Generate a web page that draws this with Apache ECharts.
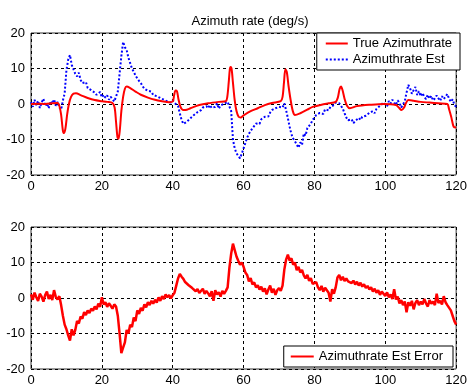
<!DOCTYPE html>
<html>
<head>
<meta charset="utf-8">
<script src="https://cdn.jsdelivr.net/npm/echarts@6/dist/echarts.min.js"></script>
<style>
  html, body { margin: 0; padding: 0; background: #fff; }
  #chart { width: 470px; height: 387px; }
</style>
</head>
<body>
<div id="chart"></div>
<script>
// Sample spacing of the estimator output (seconds)
const STEP = 0.5;

// Axis ticks
const xTicks = [0, 20, 40, 60, 80, 100, 120];
const yTicks = [-20, -10, 0, 10, 20];

// True azimuth rate (deg/s) as [time, value] knots
const trueRate = [
  [0,0],[2,0.1],[4,0],[6,0.2],[7.5,0.3],[8,-0.5],[8.5,-3],[9,-7.5],[9.3,-8.2],[9.7,-7],
  [10.2,-3],[10.7,0],[11.3,2],[12,2.9],[12.7,3],[14,2.5],[16,1.7],[18,1.1],[20,0.8],[21.5,0.6],
  [23,0.3],[23.6,-1],[24,-5],[24.4,-9.3],[24.7,-9.8],[25.1,-7],[25.5,-2],[26,2],[26.5,4.3],[27,4.9],
  [27.8,4.6],[29.5,3.5],[31,2.6],[33,1.8],[35,1.2],[37,0.8],[39,0.5],[40,0.7],[40.4,2.5],[40.8,3.8],
  [41.2,3.6],[41.6,1.5],[42.2,-0.8],[43,-1.7],[44,-1.6],[45,-1.2],[47.5,-0.3],[50,0.2],[53,0.6],[55,0.8],
  [55.4,2],[55.8,6],[56.1,9.6],[56.3,10.4],[56.6,10],[57,6],[57.5,1],[58,-2],[58.6,-3.6],[59.2,-3.8],
  [60,-3.2],[62,-2],[64,-1.2],[66,-0.3],[68,0.3],[70.5,0.8],[71,2],[71.4,6],[71.8,9.8],[72.2,9],
  [72.7,5],[73.3,1],[73.9,-2],[74.5,-3.1],[76,-2.6],[78,-1.6],[79.5,-0.8],[82,-0.2],[84,0.2],[86,0.6],
  [86.6,1.8],[87.1,4.2],[87.5,4.9],[87.9,4],[88.5,1.5],[89.2,-0.5],[90,-1.2],[92,-0.6],[96,-0.2],[99.5,0],
  [103,-0.3],[103.8,-1],[104.6,-1.7],[105.3,-1],[105.8,0.2],[106.5,1.1],[108,0.9],[110,0.6],[112.5,0.4],[115,0.2],
  [117.5,0],[118,-1.5],[118.6,-3.6],[119.3,-6.4],[120,-6.6]
];

// Estimated azimuth rate (deg/s), one value every STEP from t = 0
const estRate = [
  0.5, -0.8, 1.2, -0.3, 0.9, -1.1, 0.4, 1.5, -0.6, 0.2,
  -1.2, 0.8, 0.1, 1.3, -0.5, 0.6, -1.0, -1.6, 1.0, 3.0,
  9.5, 12.5, 13.8, 11.0, 10.5, 8.5, 7.8, 8.8, 6.8, 5.9,
  5.4, 6.2, 4.5, 5.0, 3.9, 4.4, 3.2, 2.6, 2.5, 3.4,
  1.9, 2.6, 1.8, 2.4, 1.2, 2.0, 1.6, 0.7, 0.6, 3.5,
  8.5, 13.5, 17.5, 16.0, 15.2, 13.0, 11.5, 10.0, 9.1, 8.0,
  7.2, 6.5, 5.9, 5.0, 4.3, 4.6, 3.7, 3.2, 3.5, 2.5,
  3.0, 2.2, 2.6, 1.7, 2.0, 1.2, 1.6, 0.7, 1.1, 0.4,
  1.0, 0.3, 0.6, -0.5, -2.6, -4.5, -5.6, -6.0, -5.0, -5.4,
  -4.0, -4.5, -3.1, -3.4, -2.3, -2.0, -1.7, -1.0, -1.5, -0.6,
  -1.2, -0.3, -1.1, -0.6, -0.8, 0.2, -1.3, -0.4, -0.8, 0.1,
  -0.3, 0.6, 0.8, -2.0, -10.0, -12.5, -13.9, -14.4, -15.3, -14.0,
  -12.5, -11.0, -9.5, -8.4, -8.8, -6.8, -6.2, -5.5, -5.0, -5.6,
  -4.3, -4.0, -3.6, -3.1, -3.5, -2.4, -1.7, -2.2, -1.2, -1.6,
  -0.8, -0.3, -1.0, 0.2, -1.7, -4.0, -6.4, -8.5, -9.7, -10.5,
  -11.0, -12.3, -10.8, -11.5, -8.3, -8.9, -6.8, -7.2, -5.5, -4.5,
  -4.0, -3.1, -3.6, -2.5, -2.2, -2.8, -1.5, -1.2, -1.8, -0.8,
  -1.2, -0.3, 0.4, 0.9, 0.2, -0.5, -1.3, -2.6, -3.8, -4.6,
  -5.0, -4.3, -5.4, -4.8, -5.2, -3.9, -4.5, -3.6, -4.1, -3.3,
  -3.6, -2.5, -3.0, -2.0, -2.6, -1.4, -1.8, -0.5, -0.8, 0.4,
  0.2, -0.6, 0.8, 0.1, 1.2, 0.4, -0.3, 1.0, 0.3, -1.0,
  -0.6, 0.8, 3.2, 5.4, 4.4, 2.9, 3.9, 4.8, 2.5, 3.6,
  2.2, 3.1, 2.0, 1.4, 2.6, 1.5, 2.3, 1.0, 1.6, 2.4,
  1.6, 0.9, 2.2, 1.4, 2.0, 2.8, 1.5, 0.6, 1.3, -0.2,
  -0.8
];

// Estimation error (deg/s), one value every STEP from t = 0
const estError = [
  1.0, -0.5, 1.5, 0.2, -0.8, 1.2, 0.4, -1.0, 0.8, 1.8,
  -0.3, 0.9, -0.6, 2.2, 0.3, -0.4, 0.5, -2.0, -5.0, -7.5,
  -8.8, -10.5, -12.0, -8.8, -10.5, -9.0, -6.5, -7.2, -5.2, -5.8,
  -4.0, -4.8, -3.5, -4.2, -3.0, -3.6, -2.4, -3.2, -1.6, -2.5,
  0.2, -1.8, -1.2, -2.5, -1.5, -2.2, -3.0, -1.8, -2.4, -5.0,
  -10.0, -15.5, -14.0, -12.5, -9.0, -10.0, -7.5, -8.2, -5.5, -6.5,
  -3.5, -4.5, -2.8, -3.6, -1.8, -2.6, -1.2, -2.0, -0.8, -1.6,
  -0.5, -1.3, 0.2, -0.8, 0.5, -0.3, 1.0, 0.2, 0.8, -0.1,
  0.8, 1.5, 3.5, 5.5, 6.8, 6.0, 5.4, 4.5, 4.9, 3.6,
  3.6, 2.8, 3.2, 1.9, 2.5, 1.4, 1.8, 2.6, 1.2, 2.0,
  1.3, 0.5, 1.9, -0.8, 2.2, 1.0, 1.6, 0.4, 2.0, 1.2,
  2.0, 3.0, 8.5, 12.5, 15.3, 13.5, 11.7, 10.5, 9.4, 10.0,
  8.8, 7.2, 6.5, 4.7, 5.6, 3.8, 4.4, 3.0, 3.6, 2.4,
  3.2, 1.8, 2.7, 1.0, 2.4, 3.5, 1.5, 2.6, 0.9, 2.2,
  2.8, 2.0, 3.5, 8.0, 10.8, 12.2, 10.5, 11.2, 9.4, 10.0,
  7.8, 8.8, 7.2, 7.9, 6.4, 5.5, 6.5, 4.8, 5.6, 4.0,
  3.6, 4.5, 3.0, 2.2, 3.4, 1.8, 2.9, 2.2, 1.5, -1.0,
  2.5, 1.2, 3.0, 5.8, 6.5, 5.0, 6.0, 4.8, 5.5, 4.7,
  5.2, 4.2, 4.9, 3.8, 4.6, 3.5, 4.3, 3.2, 3.9, 2.8,
  3.4, 2.4, 3.0, 1.8, 2.6, 1.5, 2.2, 0.9, 1.8, 1.3,
  0.6, 1.6, 0.2, 1.0, -0.3, 2.5, -0.4, 0.4, -1.5, -0.6,
  -2.0, -1.0, -4.0, -1.2, -2.2, -0.8, -3.2, -1.4, -0.6, -2.0,
  -1.0, -1.8, -0.3, -1.5, -2.4, -0.6, -1.6, -1.0, -2.0, 1.2,
  -1.4, -0.8, -1.8, 0.5, -1.2, -2.0, -1.5, -3.5, -5.0, -6.5,
  -7.5
];

const toPairs = arr => arr.map((v, i) => [i * STEP, v]);

const FONT = '"Liberation Sans", Arial, sans-serif';
const FONT_SIZE = 13;
const gridLine = { show: true, lineStyle: { color: '#000', width: 1, type: [3, 3] } };

function xAxis(gridIndex) {
  return {
    type: 'value', gridIndex,
    min: xTicks[0], max: xTicks[xTicks.length - 1], interval: xTicks[1] - xTicks[0],
    axisLine: { show: false }, axisTick: { show: false },
    axisLabel: { color: '#000', fontSize: FONT_SIZE, fontFamily: FONT, margin: 5, showMinLabel: true, showMaxLabel: true },
    splitLine: gridLine
  };
}
function yAxis(gridIndex) {
  return {
    type: 'value', gridIndex,
    min: yTicks[0], max: yTicks[yTicks.length - 1], interval: yTicks[1] - yTicks[0],
    axisLine: { show: false }, axisTick: { show: false },
    axisLabel: { color: '#000', fontSize: FONT_SIZE, fontFamily: FONT, margin: 6, showMinLabel: true, showMaxLabel: true },
    splitLine: gridLine
  };
}

const legendText = { fontSize: FONT_SIZE, color: '#000', fontFamily: FONT };
// Legend keys show only the line sample, no marker
const legendMarker = { opacity: 0 };

const chart = echarts.init(document.getElementById('chart'), null, { renderer: 'canvas' });
chart.setOption({
  animation: false,
  backgroundColor: '#fff',
  title: {
    text: 'Azimuth rate (deg/s)',
    left: 245, top: 10, textAlign: 'center',
    textStyle: { fontSize: FONT_SIZE, fontWeight: 'normal', color: '#000', fontFamily: FONT }
  },
  grid: [
    { left: 31, top: 33, width: 429, height: 142, show: true, borderColor: '#333', borderWidth: 1, backgroundColor: '#fff' },
    { left: 31, top: 227, width: 429, height: 143, show: true, borderColor: '#333', borderWidth: 1, backgroundColor: '#fff' }
  ],
  xAxis: [xAxis(0), xAxis(1)],
  yAxis: [yAxis(0), yAxis(1)],
  legend: [
    {
      data: ['True Azimuthrate', 'Azimuthrate Est'],
      orient: 'vertical', right: 10, top: 33,
      itemWidth: 22, itemHeight: 13, itemGap: 3,
      padding: [4, 8, 4, 8],
      borderColor: '#000', borderWidth: 1, backgroundColor: '#fff',
      itemStyle: legendMarker,
      textStyle: legendText
    },
    {
      data: ['Azimuthrate Est Error'],
      right: 17, top: 346,
      itemWidth: 23, itemHeight: 13,
      padding: [4, 10, 4, 6],
      borderColor: '#000', borderWidth: 1, backgroundColor: '#fff',
      itemStyle: legendMarker,
      textStyle: legendText
    }
  ],
  series: [
    {
      name: 'True Azimuthrate', type: 'line', xAxisIndex: 0, yAxisIndex: 0,
      data: trueRate, symbol: 'none', smooth: 0.3, z: 3,
      lineStyle: { color: '#ff0000', width: 2 }, itemStyle: { color: '#ff0000' }
    },
    {
      name: 'Azimuthrate Est', type: 'line', xAxisIndex: 0, yAxisIndex: 0,
      data: toPairs(estRate), symbol: 'none', z: 2,
      lineStyle: { color: '#0000ff', width: 2, type: [2, 2] }, itemStyle: { color: '#0000ff' }
    },
    {
      name: 'Azimuthrate Est Error', type: 'line', xAxisIndex: 1, yAxisIndex: 1,
      data: toPairs(estError), symbol: 'none',
      lineStyle: { color: '#ff0000', width: 2.5 }, itemStyle: { color: '#ff0000' }
    }
  ]
});
</script>
</body>
</html>
